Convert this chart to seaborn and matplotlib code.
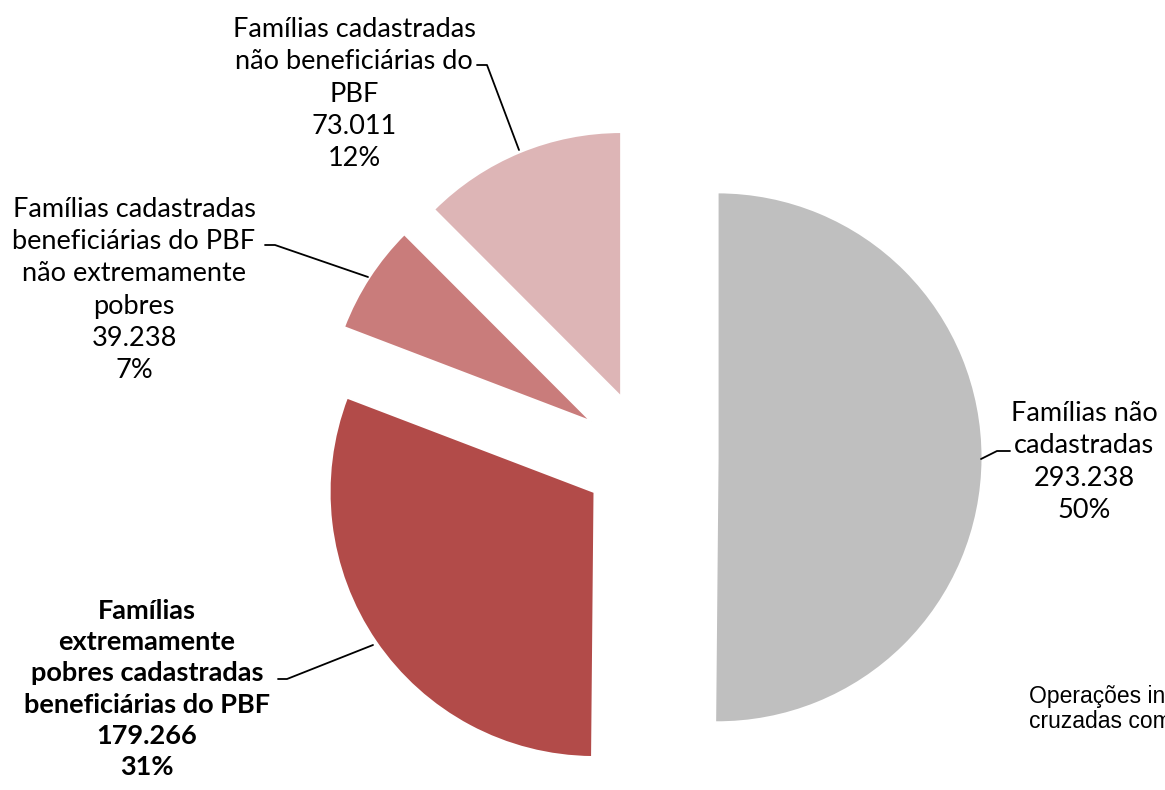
import seaborn as sns
import matplotlib.pyplot as plt

# dados (famílias)
categorias = ['Famílias não\ncadastradas',
              'Famílias\nextremamente\npobres cadastradas\nbeneficiárias do PBF',
              'Famílias cadastradas\nbeneficiárias do PBF\nnão extremamente\npobres',
              'Famílias cadastradas\nnão beneficiárias do\nPBF']
valores = [293238, 179266, 39238, 73011]
cores = ['#BFBFBF', '#B24B49', '#C97C7B', '#DDB5B6']

sns.set_theme(style="white")
plt.rcParams['font.family'] = ['Lato', 'DejaVu Sans']

W, H = 1165, 790
raio = 265
fig = plt.figure(figsize=(W / 100, H / 100), dpi=100)
ax = fig.add_axes([0, 0, 1, 1])

# explode e' em unidades de dados (px aqui)
destaque = [0.27 * raio, 0.235 * raio, 0.245 * raio, 0.245 * raio]
wedges, _ = ax.pie(valores, colors=sns.color_palette(cores), startangle=90, counterclock=False,
                   explode=destaque, center=(646, H - 457), radius=raio,
                   wedgeprops=dict(edgecolor='white', linewidth=1.5))
ax.set_xlim(0, W)
ax.set_ylim(0, H)
ax.set_aspect('equal')
ax.axis('off')

total = sum(valores)
def rotulo(i):
  num = "{:,}".format(valores[i]).replace(",", ".")
  pct = round(valores[i] / total * 100)
  return "{}\n{}\n{}%".format(categorias[i], num, pct)

# posicao dos rotulos (px, a partir do topo) e linhas de chamada
pos = [(1084, 462), (147, 689), (134, 290), (354, 94)]
linhas = [[(981, 459), (997, 451), (1010, 451)],
          [(373, 645), (287, 679), (278, 679)],
          [(368, 277), (275, 245), (265, 245)],
          [(519, 150), (487, 65), (477, 65)]]

for i in range(len(valores)):
  x, y = pos[i]
  ax.text(x, H - y, rotulo(i), ha='center', va='center', multialignment='center',
          fontsize=19.5, linespacing=1.36, color='black',
          fontweight='bold' if i == 1 else 'normal')
  xs = [p[0] for p in linhas[i]]
  ys = [H - p[1] for p in linhas[i]]
  ax.plot(xs, ys, color='black', lw=1.3)

ax.text(1029, H - 709, "Operações inf\ncruzadas com", ha='left', va='center',
        fontsize=16.5, linespacing=1.15, color='black',
        family=['Liberation Sans Narrow', 'Liberation Sans', 'DejaVu Sans'])

fig.savefig('out.png', dpi=100)
